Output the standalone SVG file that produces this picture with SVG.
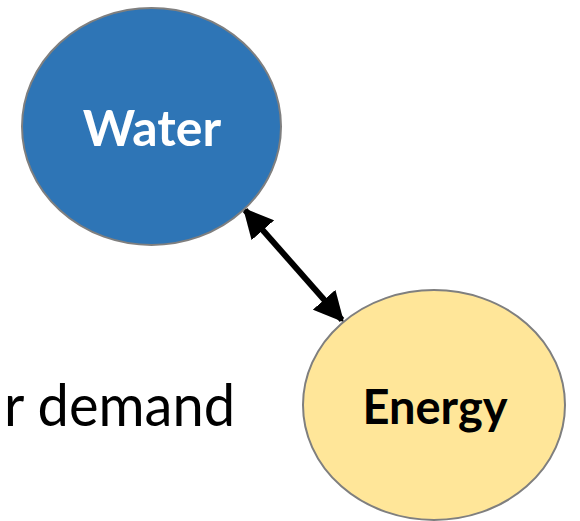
<svg xmlns="http://www.w3.org/2000/svg" width="580" height="521" viewBox="0 0 580 521">
  <style>
    .node { stroke: #7f7f7f; stroke-width: 2; }
    .label { font-family: Lato, "Open Sans", "Liberation Sans", sans-serif; font-weight: bold; text-anchor: middle; }
    .body { font-family: Lato, "Open Sans", "Liberation Sans", sans-serif; }
  </style>
  <defs>
    <marker id="head" viewBox="0 0 10 10" refX="9" refY="5" markerWidth="5" markerHeight="5" orient="auto-start-reverse" markerUnits="strokeWidth">
      <path d="M0,0 L10,5 L0,10 z" fill="#000"/>
    </marker>
  </defs>
  <rect width="580" height="521" fill="#fff"/>
  <text class="body" x="4" y="426" font-size="58" fill="#000" textLength="231" lengthAdjust="spacingAndGlyphs">r demand</text>
  <g id="connectors">
    <line x1="245" y1="210" x2="342" y2="320" stroke="#000" stroke-width="6" marker-start="url(#head)" marker-end="url(#head)"/>
  </g>
  <g id="water">
    <ellipse class="node" cx="151.5" cy="126.5" rx="129.5" ry="118.5" fill="#2e75b6"/>
    <text class="label" x="152" y="146" font-size="50" fill="#fff">Water</text>
  </g>
  <g id="energy">
    <ellipse class="node" cx="434" cy="405" rx="131" ry="115" fill="#ffe699"/>
    <text class="label" x="435" y="424" font-size="47" fill="#000">Energy</text>
  </g>
</svg>
